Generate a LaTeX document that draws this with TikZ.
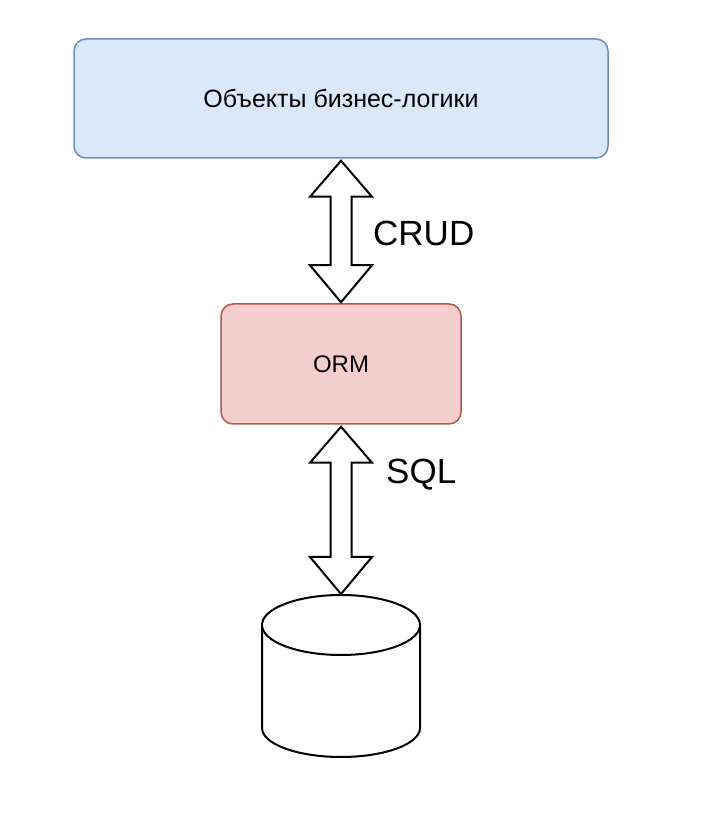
\documentclass[tikz,border=0pt]{standalone}
\usepackage{fontspec}
\setmainfont{Liberation Sans}
\usetikzlibrary{calc}
\definecolor{logicfill}{HTML}{DAE8FC}
\definecolor{logicline}{HTML}{6C8EBF}
\definecolor{ormfill}{HTML}{F5CFCD}
\definecolor{ormline}{HTML}{B85450}

\begin{document}
\begin{tikzpicture}[x=1pt, y=1pt,
    box/.style={draw, line width=1.5pt, rounded corners=12pt, inner sep=0pt,
        font=\fontsize{24}{28}\selectfont},
    blockarrow/.style={draw, fill=white, line width=2pt, line join=miter},
    arrowlabel/.style={anchor=west, inner sep=0pt, font=\fontsize{35}{40}\selectfont}]
    \useasboundingbox (0,0) rectangle (708,824);

    % Draw the two boxes
    \node[box, fill=logicfill, draw=logicline, minimum width=534pt, minimum height=119pt,
        font=\fontsize{25}{29}\selectfont]
        (logic) at (341,725.5) {Объекты бизнес-логики};
    \node[box, fill=ormfill, draw=ormline, minimum width=240pt, minimum height=120pt]
        (orm) at (341,460) {ORM};

    % Draw the database cylinder
    \coordinate (db) at (341,229);
    \draw[line width=2pt, fill=white] (262,199) -- (262,96)
        arc[start angle=180, end angle=360, x radius=79, y radius=29] -- (420,199);
    \draw[line width=2pt, fill=white] (341,199) ellipse [x radius=79, y radius=30];

    % Draw the double block arrows between them
    \foreach \from/\to in {logic.south/orm.north, orm.south/db} {
        \draw[blockarrow] let \p1=(\from), \p2=(\to) in
            (\x1,\y1-2pt) -- (\x1+31pt,\y1-38pt) -- (\x1+10.5pt,\y1-38pt)
            -- (\x1+10.5pt,\y2+38pt) -- (\x1+31pt,\y2+38pt) -- (\x1,\y2+1pt)
            -- (\x1-31pt,\y2+38pt) -- (\x1-10.5pt,\y2+38pt)
            -- (\x1-10.5pt,\y1-38pt) -- (\x1-31pt,\y1-38pt) -- cycle;
    }

    % Labels next to the arrows
    \node[arrowlabel] (crud) at ($(orm.north)+(32,70)$) {CRUD};
    \node[arrowlabel] (sql) at ($(orm.south)+(45,-50)$) {SQL};
\end{tikzpicture}
\end{document}
